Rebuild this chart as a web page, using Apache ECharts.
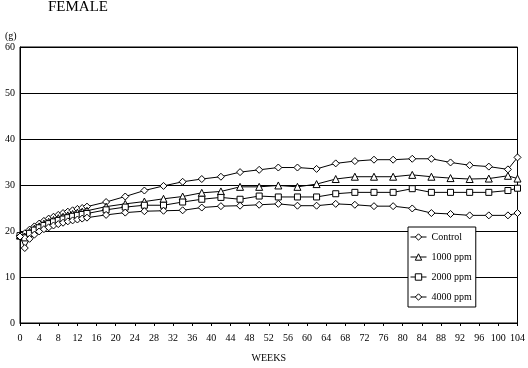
<!DOCTYPE html>
<html><head><meta charset="utf-8">
<script src="https://cdn.jsdelivr.net/npm/echarts@6/dist/echarts.min.js"></script>
<style>html,body{margin:0;padding:0;background:#fff}#c{width:528px;height:368px}</style>
</head><body><div id="c"></div>
<script>
const weeks = [0,1,2,3,4,5,6,7,8,9,10,11,12,13,14,18,22,26,30,34,38,42,46,50,54,58,62,66,70,74,78,82,86,90,94,98,102,104];
const control = [19.0,19.5,20.3,21.0,21.6,22.2,22.7,23.1,23.5,23.9,24.2,24.5,24.8,25.0,25.3,26.3,27.5,28.8,29.8,30.7,31.3,31.8,32.8,33.3,33.8,33.8,33.5,34.7,35.2,35.5,35.5,35.7,35.7,34.9,34.3,34.0,33.4,36.0];
const ppm1000 = [19.0,18.8,19.8,20.5,21.0,21.6,22.0,22.4,22.8,23.1,23.4,23.7,24.0,24.2,24.4,25.3,25.9,26.4,27.0,27.5,28.3,28.6,29.6,29.6,29.9,29.6,30.2,31.3,31.8,31.8,31.8,32.2,31.8,31.5,31.3,31.4,32.0,31.4];
const ppm2000 = [19.0,18.5,19.5,20.2,20.7,21.2,21.6,22.0,22.3,22.6,22.9,23.2,23.4,23.6,23.8,24.6,25.2,25.6,25.6,26.3,26.9,27.3,26.9,27.6,27.4,27.4,27.4,28.1,28.4,28.4,28.4,29.2,28.4,28.4,28.4,28.4,28.8,29.3];
const ppm4000 = [18.8,16.3,18.3,19.2,19.9,20.4,20.8,21.2,21.5,21.8,22.1,22.3,22.5,22.7,22.9,23.5,24.0,24.3,24.4,24.5,25.1,25.4,25.5,25.7,25.9,25.5,25.5,25.9,25.7,25.4,25.4,24.9,23.9,23.7,23.4,23.4,23.4,23.9];
const seriesNames = ['Control','1000 ppm','2000 ppm','4000 ppm'];
const seriesSymbols = ['diamond','triangle','rect','diamond'];
const seriesData = [control, ppm1000, ppm2000, ppm4000];

const font = 'Liberation Serif';
const chart = echarts.init(document.getElementById('c'), null, {renderer:'canvas'});
const series = seriesNames.map((n,i)=>({
  name:n, type:'line',
  data: weeks.map((w,j)=>[w, seriesData[i][j]]),
  symbol: seriesSymbols[i],
  symbolSize: i===2 ? 6 : 7,
  showAllSymbol:true,
  lineStyle:{color:'#000', width:1},
  itemStyle:{color:'#fff', borderColor:'#000', borderWidth:1},
  emphasis:{disabled:true},
  animation:false
}));
chart.setOption({
  animation:false,
  backgroundColor:'#fff',
  title:{text:'FEMALE', left:48, top:0, padding:0, textStyle:{fontFamily:font, fontSize:15, fontWeight:'normal', color:'#000'}},
  graphic:[{type:'text', left:5, top:31, style:{text:'(g)', font:'10px "Liberation Serif"', fill:'#000'}}],
  grid:{left:20, right:9, top:47, bottom:40, show:true, borderColor:'#000', borderWidth:1, backgroundColor:'transparent'},
  legend:{
    data:seriesNames, orient:'vertical', left:408, top:227,
    itemWidth:16, itemHeight:8, itemGap:10,
    padding:[5,4,5,2],
    itemStyle:{color:'#fff', borderColor:'#000', borderWidth:1},
    lineStyle:{color:'#000', width:1},
    backgroundColor:'#fff', borderColor:'#000', borderWidth:1,
    textStyle:{fontFamily:font, fontSize:10, color:'#000'}
  },
  xAxis:{
    type:'value', min:0, max:104, interval:4,
    name:'WEEKS', nameLocation:'middle', nameGap:30,
    nameTextStyle:{fontFamily:font, fontSize:10, color:'#000'},
    axisLine:{lineStyle:{color:'#000', width:1}},
    axisTick:{show:true, length:3, lineStyle:{color:'#000'}},
    axisLabel:{fontFamily:font, fontSize:10, color:'#000', margin:10},
    splitLine:{show:false}
  },
  yAxis:{
    type:'value', min:0, max:60, interval:10,
    axisLine:{show:true, lineStyle:{color:'#000', width:1}},
    axisTick:{show:false},
    axisLabel:{fontFamily:font, fontSize:10, color:'#000', margin:5},
    splitLine:{show:true, lineStyle:{color:'#000', width:1}}
  },
  series: series
});
</script></body></html>
